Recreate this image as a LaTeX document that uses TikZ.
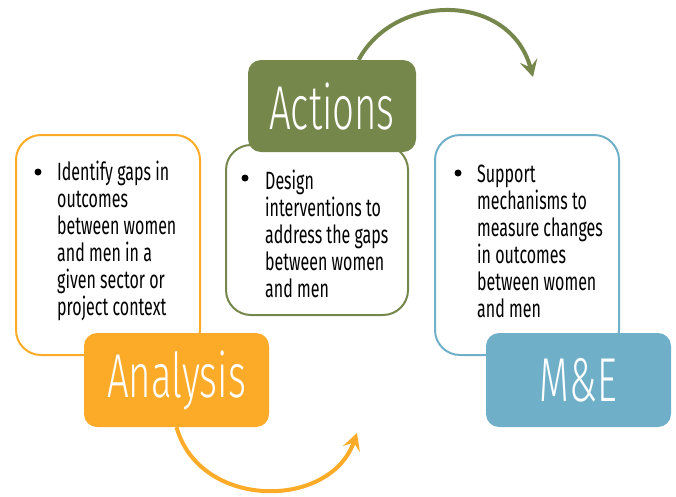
\documentclass[tikz,border=0pt]{standalone}
\usepackage{fontspec}
\setmainfont[FakeStretch=0.64]{Fira Sans}
\newfontfamily\titlefont[FakeStretch=0.62, UprightFont=* Light]{Fira Sans}
\usepackage{tikz}
\usetikzlibrary{arrows.meta, positioning}

\definecolor{anaorange}{HTML}{FBAB27}
\definecolor{actgreen}{HTML}{76874C}
\definecolor{meblue}{HTML}{6FB0C8}

\begin{document}
\begin{tikzpicture}[
        x=1pt, y=-1pt,
        outline/.style={rectangle, rounded corners=25pt, line width=2pt, fill=white, minimum width=184pt, minimum height=220pt},
        titlebox/.style={rectangle, rounded corners=13pt, text=white, minimum width=185pt, minimum height=94pt, font=\titlefont\fontsize{62}{62}\selectfont},
        bullettext/.style={align=left, inner sep=0pt, anchor=north west, font=\fontsize{25}{27}\selectfont},
        dot/.style={circle, fill=black, inner sep=0pt, minimum size=7pt},
        arrow/.style={line width=4pt, -{Stealth[length=17pt, width=18pt, inset=7pt]}}
    ]
    \useasboundingbox (0,0) rectangle (676,496);

    % outline boxes
    \node (anabox) [outline, draw=anaorange] at (108,245) {};
    \node (actbox) [outline, draw=actgreen, minimum width=182pt, minimum height=170pt] at (317,230) {};
    \node (mebox) [outline, draw=meblue] at (527,245) {};

    % title boxes
    \node (analysis) [titlebox, fill=anaorange] at (176.5,380) {Analysis};
    \node (actions) [titlebox, fill=actgreen, minimum width=168pt, minimum height=92pt] at (332,106) {Actions};
    \node (me) [titlebox, fill=meblue] at (578.5,380) {M\&E};

    % bullets
    \node (anadot) [dot] at (38,172) {};
    \node (actdot) [dot] at (245,178) {};
    \node (medot) [dot] at (458,173) {};

    \node (anatext) [bullettext] at (57,161) {Identify gaps in\\outcomes\\between women\\and men in a\\given sector or\\project context};
    \node (acttext) [bullettext] at (265,170) {Design\\interventions to\\address the gaps\\between women\\and men};
    \node (metext) [bullettext] at (477,165) {Support\\mechanisms to\\measure changes\\in outcomes\\between women\\and men};

    % cycle arrows
    \coordinate (anaend) at (357,433);
    \coordinate (actend) at (533,77);
    \draw [arrow, anaorange] (analysis.south) .. controls (200,510) and (330,510) .. (anaend);
    \draw [arrow, actgreen] (actions.60) .. controls (395,-8) and (510,-8) .. (actend);

\end{tikzpicture}
\end{document}
